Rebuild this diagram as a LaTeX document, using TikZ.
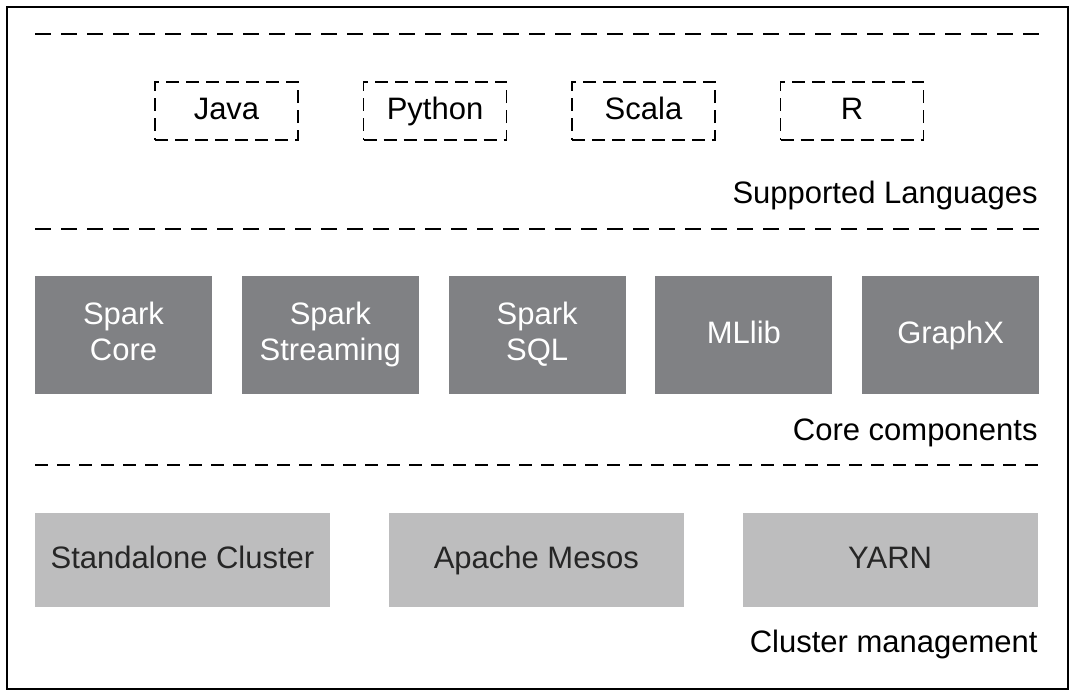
\documentclass[tikz,border=0pt]{standalone}
\usepackage{fontspec}
\setmainfont{Liberation Sans}
\usetikzlibrary{positioning}

\definecolor{coregray}{RGB}{128,129,132}
\definecolor{clustergray}{RGB}{189,189,190}

\newcommand{\lnstrut}{\rule[-4pt]{0pt}{16pt}}

\tikzset{
	every node/.style = {font = \fontsize{15.5}{18}\selectfont,
		execute at begin node = \lnstrut, execute at end node = \lnstrut},
	langbox/.style = {draw, line width = 0.75pt, dash pattern = on 6.5pt off 3.5pt,
		minimum width = 71.5pt, minimum height = 29pt, inner sep = 0pt},
	corebox/.style = {fill = coregray, text = white, align = center,
		minimum width = 88.5pt, minimum height = 59pt, inner sep = 0pt},
	clusterbox/.style = {fill = clustergray, text = black!85,
		minimum width = 147.5pt, minimum height = 47pt, inner sep = 0pt},
	layerline/.style = {line width = 1pt, dash pattern = on 8pt off 5pt},
	layername/.style = {anchor = east, inner sep = 0pt}
}

\begin{document}
\begin{tikzpicture}[x = 0.5pt, y = -0.5pt]
	\def\xL{35};
	\def\xR{1039};

	\useasboundingbox (0,0) rectangle (1074,696);
	\draw [line width = 1pt] (7,7) rectangle (1068,689);

	% layer separators
	\draw [layerline] (\xL,34) -- (\xR,34);
	\draw [layerline] (\xL,229) -- (\xR,229);
	\draw [layerline, line width = 0.6pt, dash pattern = on 6.5pt off 4.5pt] (\xL,465) -- (\xR,465);

	% supported languages
	\node [langbox] (java) at (226.5,111) {Java};
	\node [langbox, right = 32pt of java] (python) {Python};
	\node [langbox, right = 32pt of python] (scala) {Scala};
	\node [langbox, right = 32pt of scala] (r) {R};
	\node [layername] (langs) at (1038,195) {Supported Languages};

	% core components
	\node [corebox] (core) at (123.5,335) {Spark\\Core};
	\node [corebox, right = 14.5pt of core] (streaming) {Spark\\Streaming};
	\node [corebox, right = 14.5pt of streaming] (sql) {Spark\\SQL};
	\node [corebox, right = 14.5pt of sql] (mllib) {MLlib};
	\node [corebox, right = 14.5pt of mllib] (graphx) {GraphX};
	\node [layername] (comps) at (1038,432) {Core components};

	% cluster management
	\node [clusterbox] (standalone) at (182.5,560) {Standalone Cluster};
	\node [clusterbox, right = 29pt of standalone] (mesos) {Apache Mesos};
	\node [clusterbox, right = 29pt of mesos] (yarn) {YARN};
	\node [layername] (mgmt) at (1038,644) {Cluster management};
\end{tikzpicture}
\end{document}
